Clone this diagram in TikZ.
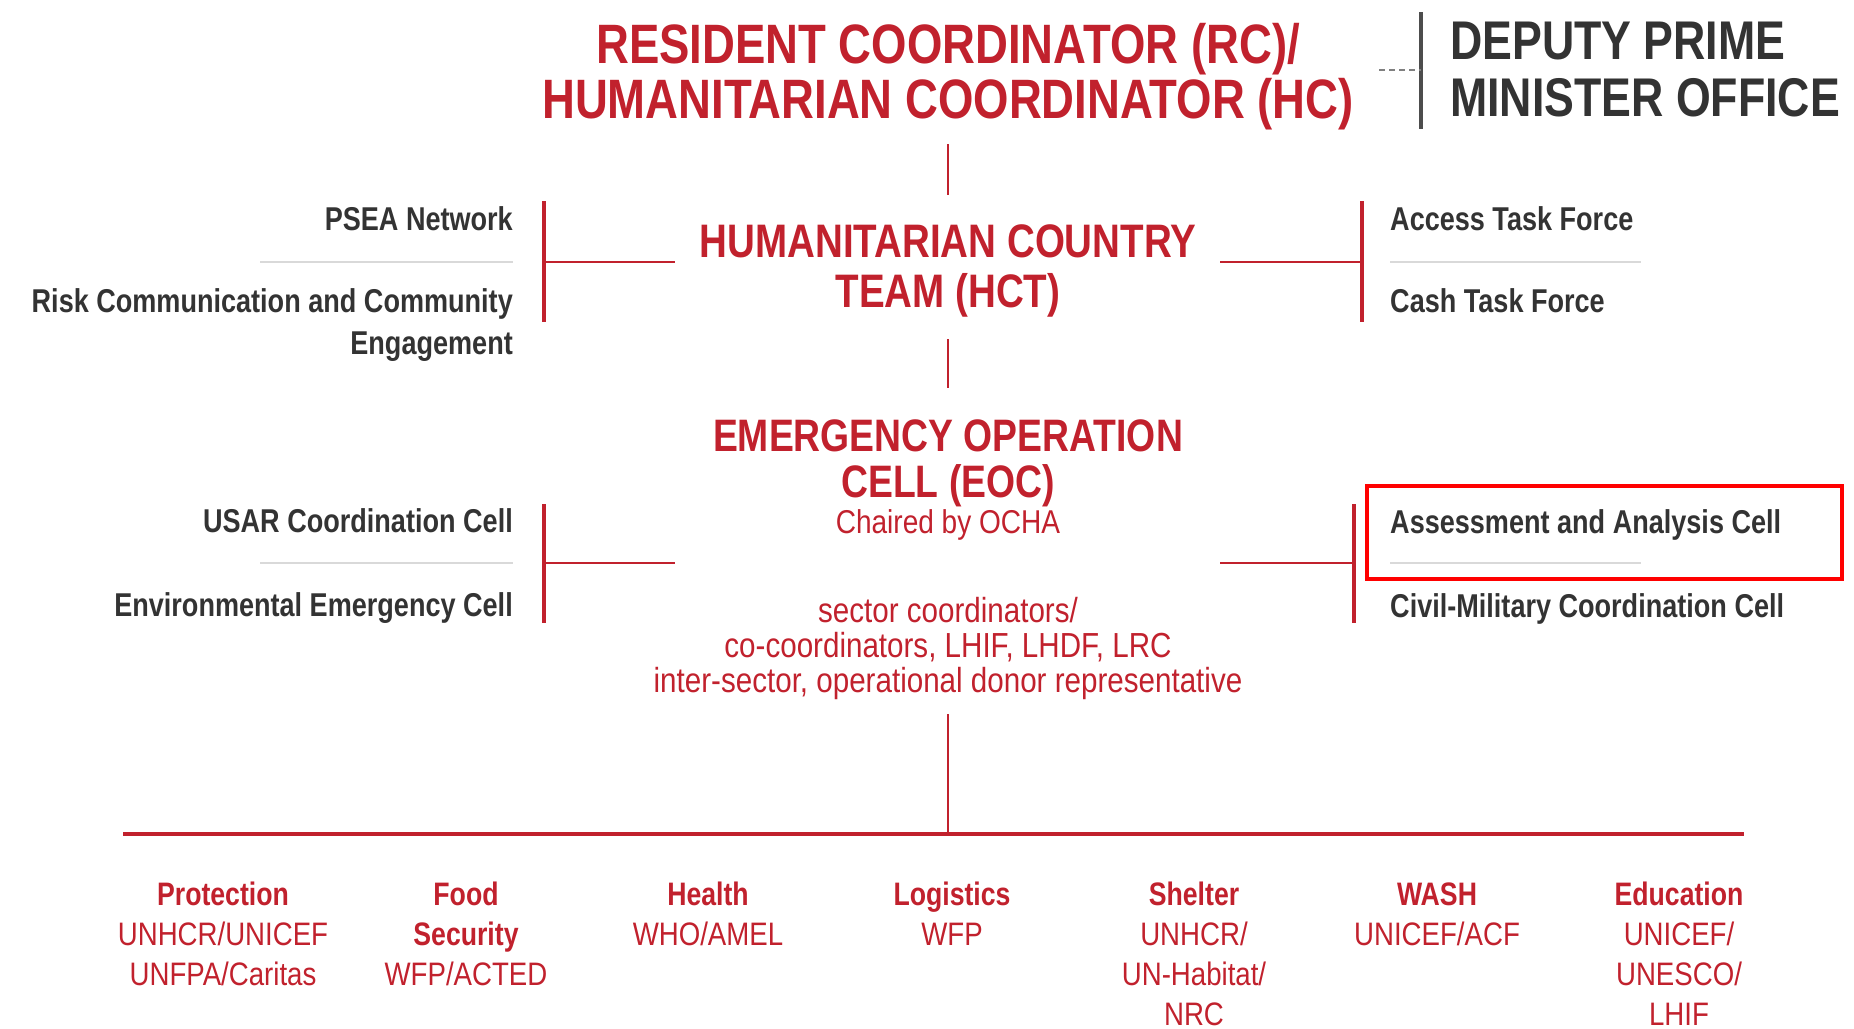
\documentclass[tikz,border=0pt]{standalone}
\usepackage{fontspec}
\setmainfont{Liberation Sans}[FakeStretch=0.85,BoldFeatures={FakeStretch=0.82}]
\usetikzlibrary{positioning}
\definecolor{hcred}{RGB}{193,33,45}
\definecolor{txtgray}{RGB}{51,51,51}
\definecolor{bargray}{RGB}{77,77,77}
\definecolor{sepgray}{RGB}{217,217,217}
\definecolor{markred}{RGB}{255,0,0}
\newcommand{\fsz}[2]{\fontsize{#1}{#2}\selectfont}
\tikzset{
    headtxt/.style={text=hcred, align=center, inner sep=0pt, anchor=base},
    subtxt/.style={text=hcred, align=center, inner sep=0pt, anchor=base, font=\fsz{33}{35}},
    lefttxt/.style={text=txtgray, align=right, inner sep=0pt, anchor=base east, font=\fsz{33}{42}\bfseries},
    righttxt/.style={text=txtgray, align=left, inner sep=0pt, anchor=base west, font=\fsz{33}{42}\bfseries},
    sectxt/.style={text=hcred, align=center, inner sep=0pt, anchor=base, font=\fsz{32.5}{40}},
    redline/.style={draw=hcred, line width=2pt},
    redbar/.style={draw=hcred, line width=4pt},
    sepline/.style={draw=sepgray, line width=1.5pt}
}
\begin{document}
\begin{tikzpicture}[x=1pt, y=-1pt]
    \useasboundingbox (0,0) rectangle (1854,1028);
    % top level
    \node[headtxt, font=\fsz{55.5}{55}\bfseries] (rc) at (948,118) {RESIDENT COORDINATOR (RC)/\\HUMANITARIAN COORDINATOR (HC)};
    \node[text=txtgray, align=left, inner sep=0pt, anchor=base west, font=\fsz{54.5}{57}\bfseries] (dpm) at (1450,116.5) {DEPUTY PRIME\\MINISTER OFFICE};
    \coordinate (dpmT) at (1421,12);
    \coordinate (dpmB) at (1421,129);
    \coordinate (dpmM) at (1421,70);
    \coordinate (dpmD) at (1379,70);
    \draw[draw=bargray, line width=4pt] (dpmT) -- (dpmB);
    \draw[draw=gray, line width=1.5pt, dash pattern=on 6pt off 4pt] (dpmD) -- (dpmM);

    % HCT
    \node[headtxt, font=\fsz{47}{50}\bfseries] (hct) at (948,307) {HUMANITARIAN COUNTRY\\TEAM (HCT)};
    \node[lefttxt] (psea) at (513,230) {PSEA Network};
    \node[lefttxt] (rcce) at (513,354) {Risk Communication and Community\\Engagement};
    \node[righttxt] (atf) at (1390,230) {Access Task Force};
    \node[righttxt] (ctf) at (1390,312) {Cash Task Force};

    % EOC
    \node[headtxt, font=\fsz{45.5}{46}\bfseries] (eoc) at (948,497) {EMERGENCY OPERATION\\CELL (EOC)};
    \node[subtxt] (chair) at (948,533) {Chaired by OCHA};
    \node[subtxt, font=\fsz{34.8}{35}] (members) at (948,692.5) {sector coordinators/\\co-coordinators, LHIF, LHDF, LRC\\inter-sector, operational donor representative};
    \node[lefttxt] (usar) at (513,532) {USAR Coordination Cell};
    \node[lefttxt] (eec) at (513,616) {Environmental Emergency Cell};
    \node[righttxt] (aac) at (1390,533) {Assessment and Analysis Cell};
    \node[righttxt] (cmcc) at (1390,617) {Civil-Military Coordination Cell};

    % sectors
    \node[sectxt] (prot) at (223,985) {\textbf{Protection}\\UNHCR/UNICEF\\UNFPA/Caritas};
    \node[sectxt] (food) at (466,985) {\textbf{Food}\\\textbf{Security}\\WFP/ACTED};
    \node[sectxt] (health) at (708,945) {\textbf{Health}\\WHO/AMEL};
    \node[sectxt] (logs) at (952,945) {\textbf{Logistics}\\WFP};
    \node[sectxt] (shelter) at (1194,1025) {\textbf{Shelter}\\UNHCR/\\UN-Habitat/\\NRC};
    \node[sectxt] (wash) at (1437,945) {\textbf{WASH}\\UNICEF/ACF};
    \node[sectxt] (edu) at (1679,1025) {\textbf{Education}\\UNICEF/\\UNESCO/\\LHIF};

    % vertical spine
    \coordinate (rcB) at (948,144);
    \coordinate (hctT) at (948,195);
    \coordinate (hctB) at (948,339);
    \coordinate (eocT) at (948,388);
    \coordinate (eocB) at (948,714);
    \coordinate (secM) at (948,834);
    \draw[redline, line width=1.5pt] (rcB) -- (hctT);
    \draw[redline, line width=1.5pt] (hctB) -- (eocT);
    \draw[redline, line width=1.5pt] (eocB) -- (secM);

    % brackets HCT
    \coordinate (hctLt) at (544,201);
    \coordinate (hctLb) at (544,322);
    \coordinate (hctLm) at (544,262);
    \coordinate (hctLe) at (675,262);
    \coordinate (hctRt) at (1362,201);
    \coordinate (hctRb) at (1362,322);
    \coordinate (hctRm) at (1362,262);
    \coordinate (hctRe) at (1220,262);
    \draw[redbar] (hctLt) -- (hctLb);
    \draw[redbar] (hctRt) -- (hctRb);
    \draw[redline] (hctLm) -- (hctLe);
    \draw[redline] (hctRe) -- (hctRm);
    \draw[sepline] (260,262) -- (513,262);
    \draw[sepline] (1390,262) -- (1641,262);

    % brackets EOC
    \coordinate (eocLt) at (544,504);
    \coordinate (eocLb) at (544,623);
    \coordinate (eocLm) at (544,563);
    \coordinate (eocLe) at (675,563);
    \coordinate (eocRt) at (1354,504);
    \coordinate (eocRb) at (1354,623);
    \coordinate (eocRm) at (1354,563);
    \coordinate (eocRe) at (1220,563);
    \draw[redbar] (eocLt) -- (eocLb);
    \draw[redbar] (eocRt) -- (eocRb);
    \draw[redline] (eocLm) -- (eocLe);
    \draw[redline] (eocRe) -- (eocRm);
    \draw[sepline] (260,563) -- (513,563);
    \draw[sepline] (1390,563) -- (1641,563);

    % highlight
    \draw[draw=markred, line width=4pt] (1367,486) rectangle (1842,579);

    % sector bar
    \coordinate (secL) at (123,834);
    \coordinate (secR) at (1744,834);
    \draw[redbar] (secL) -- (secR);
\end{tikzpicture}
\end{document}
